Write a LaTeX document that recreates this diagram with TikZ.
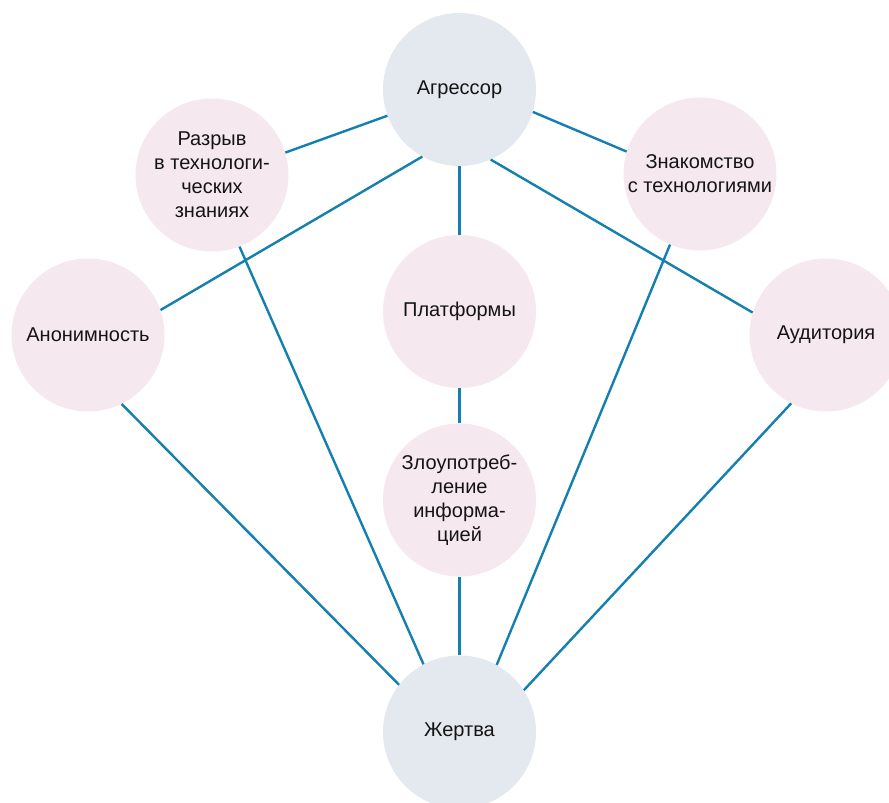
\documentclass[tikz,border=0pt]{standalone}
\usepackage{fontspec}
\setmainfont{Liberation Sans}
\definecolor{linkblue}{HTML}{1480B0}
\definecolor{grayfill}{HTML}{E4E9EF}
\definecolor{pinkfill}{HTML}{F6E8EF}
\definecolor{txt}{HTML}{141414}
\begin{document}
\begin{tikzpicture}[x=1pt,y=-1pt,
  bubble/.style={circle,minimum size=153pt,inner sep=0pt,align=center,text=txt,
    font=\fontsize{20}{24}\selectfont},
  mainb/.style={bubble,fill=grayfill},
  sideb/.style={bubble,fill=pinkfill},
  link/.style={draw=linkblue,line width=2.4pt}]
\useasboundingbox (0,0) rectangle (889,803);
\clip (0,0) rectangle (889,803);
\fill[white] (0,0) rectangle (889,803);
\node[mainb] (agr) at (459.5,89.5) {Агрессор};
\node[mainb] (zh) at (459.5,732) {Жертва};
\node[sideb] (raz) at (212,175) {Разрыв\\в технологи-\\ческих\\знаниях};
\node[sideb] (zna) at (700,174) {Знакомство\\с технологиями};
\node[sideb] (ano) at (88,335) {Анонимность};
\node[sideb] (aud) at (826,335) {Аудитория};
\node[sideb] (pla) at (459.5,311.5) {Платформы};
\node[sideb] (zlo) at (459.5,500) {Злоупотреб-\\ление\\информа-\\цией};
\draw[link] (agr.200.6) -- (raz.17.5);
\draw[link] (agr.343.3) -- (zna.163.1);
\draw[link] (agr.241) -- (ano.19);
\draw[link] (agr.294.5) -- (aud.163.7);
\draw[link] (agr.south) -- (pla.north);
\draw[link] (pla.south) -- (zlo.north);
\draw[link] (zlo.south) -- (zh.north);
\draw[link] (raz.291.3) -- (zh.118.4);
\draw[link] (zna.247.6) -- (zh.61.6);
\draw[link] (ano.296.7) -- (zh.142.5);
\draw[link] (aud.243.6) -- (zh.33.5);
\end{tikzpicture}
\end{document}
